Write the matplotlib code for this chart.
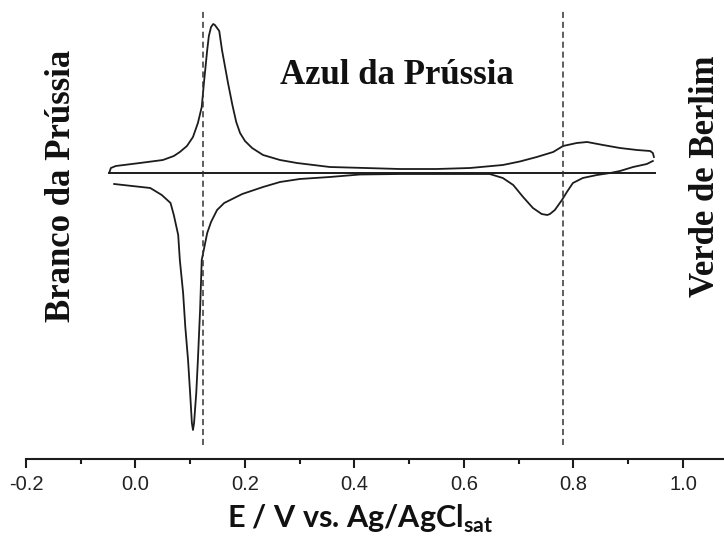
import matplotlib
matplotlib.use("Agg")
import matplotlib.pyplot as plt
from matplotlib.ticker import MultipleLocator

# Cyclic voltammogram of a Prussian blue film (current in arbitrary units)
# Forward (oxidative) sweep, left vertex -> right vertex
E_fwd = [-0.048, -0.045, -0.036, 0.008, 0.050, 0.070, 0.081, 0.094, 0.105,
         0.114, 0.121, 0.123, 0.125, 0.131, 0.134, 0.138, 0.142, 0.145,
         0.153, 0.158, 0.169, 0.177, 0.184, 0.191, 0.200, 0.213, 0.233,
         0.264, 0.295, 0.355, 0.420, 0.483, 0.550, 0.611, 0.671, 0.702,
         0.733, 0.763, 0.781, 0.806, 0.825, 0.854, 0.885, 0.916, 0.940,
         0.945, 0.947]
i_fwd = [0.00, 0.05, 0.07, 0.10, 0.13, 0.17, 0.21, 0.27, 0.36,
         0.50, 0.66, 0.78, 0.90, 1.23, 1.37, 1.46, 1.49, 1.48,
         1.42, 1.23, 0.90, 0.68, 0.51, 0.40, 0.32, 0.25, 0.18,
         0.13, 0.10, 0.06, 0.05, 0.04, 0.04, 0.05, 0.08, 0.115,
         0.16, 0.21, 0.27, 0.30, 0.31, 0.28, 0.25, 0.23, 0.22,
         0.20, 0.16]

# Reverse (reductive) sweep, right vertex -> left end
E_rev = [0.945, 0.934, 0.909, 0.885, 0.867, 0.843, 0.817, 0.799, 0.788,
         0.779, 0.766, 0.757, 0.752, 0.742, 0.726, 0.708, 0.690, 0.671,
         0.647, 0.629, 0.483, 0.410, 0.355, 0.300, 0.264, 0.233, 0.195,
         0.162, 0.149, 0.138, 0.131, 0.121, 0.118, 0.114, 0.111, 0.107,
         0.105, 0.103, 0.100, 0.096, 0.091, 0.087, 0.081, 0.078, 0.070,
         0.064, 0.048, 0.027, -0.039]
i_rev = [0.12, 0.09, 0.06, 0.02, 0.00, -0.02, -0.05, -0.10, -0.19,
         -0.27, -0.37, -0.41, -0.42, -0.41, -0.35, -0.24, -0.12, -0.05,
         -0.01, -0.01, -0.01, -0.015, -0.04, -0.06, -0.09, -0.14, -0.21,
         -0.30, -0.37, -0.49, -0.60, -0.87, -1.37, -1.87, -2.20, -2.50,
         -2.57, -2.50, -2.22, -1.87, -1.54, -1.20, -0.87, -0.62, -0.42,
         -0.30, -0.22, -0.15, -0.11]

# Zero-current baseline
E_base = [-0.048, 0.949]
i_base = [0.0, 0.0]

# Transition potentials (dashed markers)
E_marks = [0.123, 0.781]
i_mark_span = [-2.72, 1.63]

xticks = [-0.2, 0.0, 0.2, 0.4, 0.6, 0.8, 1.0]
xticklabels = ["-0.2", "0.0", "0.2", "0.4", "0.6", "0.8", "1.0"]

fig = plt.figure(figsize=(7.24, 5.39), dpi=100)
ax = fig.add_axes([26 / 724, 80 / 539, 1 - 26 / 724, 1 - 80 / 539])

ink = "#1c1c1c"
ax.plot(E_fwd, i_fwd, color=ink, lw=1.3, solid_joinstyle="round")
ax.plot(E_rev, i_rev, color=ink, lw=1.3, solid_joinstyle="round")
ax.plot(E_base, i_base, color=ink, lw=1.4)
for e in E_marks:
    ax.plot([e, e], i_mark_span, color="#333333", lw=1.1,
            dashes=(4, 2.5))

ax.set_xlim(-0.2, 1.075)
ax.set_ylim(-2.86, 1.73)

for s in ("left", "right", "top"):
    ax.spines[s].set_visible(False)
ax.spines["bottom"].set_linewidth(1.5)
ax.spines["bottom"].set_color(ink)
ax.set_yticks([])

ax.set_xticks(xticks)
ax.set_xticklabels(xticklabels, fontfamily="Liberation Sans", fontsize=14.5,
                   color="#222222")
ax.xaxis.set_minor_locator(MultipleLocator(0.1))
ax.tick_params(axis="x", which="major", length=6.5, width=1.5, pad=5,
               color=ink)
ax.tick_params(axis="x", which="minor", length=3.6, width=1.5, color=ink)

# Axis title
fig.text(360 / 724, 1 - 519 / 539, r"E / V vs. Ag/AgCl$_\mathregular{sat}$",
         family="Lato", weight="bold", fontsize=22, ha="center",
         va="center", color="#111111")

# Phase labels
serif = dict(family="Liberation Serif", weight="bold", fontsize=25,
             color="#111111")
fig.text(397 / 724, 1 - 75 / 539, "Azul da Prússia", ha="center",
         va="center", **serif)
fig.text(62 / 724, 1 - 186 / 539, "Branco da Prússia", rotation=90,
         ha="center", va="center", **serif)
fig.text(706 / 724, 1 - 176 / 539, "Verde de Berlim", rotation=90,
         ha="center", va="center", **serif)

fig.savefig("out.png", dpi=100)
